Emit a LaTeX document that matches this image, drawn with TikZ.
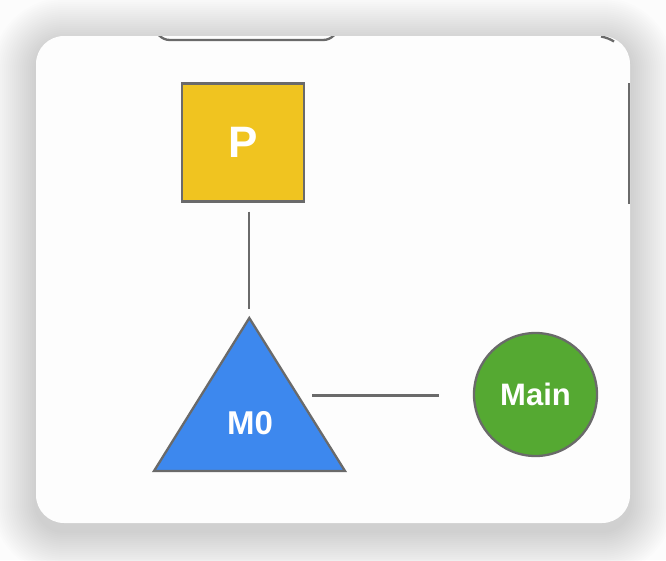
\documentclass[tikz,border=0pt]{standalone}
\usepackage{fontspec}
\setmainfont{Liberation Sans}
\definecolor{bgc}{HTML}{FCFCFC}
\definecolor{cardc}{HTML}{FDFDFD}
\definecolor{linec}{HTML}{6A6A6A}
\definecolor{pyellow}{HTML}{F0C420}
\definecolor{mblue}{HTML}{3D88EE}
\definecolor{mgreen}{HTML}{55A932}
\tikzset{
  conn/.style={draw=linec, line width=2.5pt},
  shapeline/.style={draw=linec, line width=2.3pt},
  lbl/.style={text=white, font=\bfseries},
}
\begin{document}
\begin{tikzpicture}[x=1pt,y=-1pt]
\useasboundingbox (0,0) rectangle (666,560);
\fill[bgc] (0,0) rectangle (666,560);
% soft shadow
\foreach \i in {2,4,...,44}{
  \fill[black,opacity=0.0085,rounded corners={28+\i}] (36-\i,36-\i+6) rectangle (630+\i,523+\i+8);
}
% card
\fill[cardc, rounded corners=28] (36,36) rectangle (630,523);
\begin{scope}
  \clip[rounded corners=28] (36,36) rectangle (630,523);
  % partial shapes cut by the card
  \draw[shapeline, rounded corners=15] (155,-10) rectangle (338,40);
  \draw[shapeline] (601,36.5) .. controls (606,37.5) and (610,39) .. (614,41.5);
  \draw[shapeline] (629,83) -- (629,204);
\end{scope}
% nodes
\node[shapeline, fill=pyellow, minimum width=122pt, minimum height=118pt, inner sep=0pt, lbl, font=\bfseries\fontsize{44}{44}\selectfont] (P) at (243.3,142.5) {P};
\coordinate (Mtop) at (249.3,318);
\coordinate (Mleft) at (154,471);
\coordinate (Mright) at (345,471);
\filldraw[shapeline, fill=mblue, line join=miter] (Mtop) -- (Mright) -- (Mleft) -- cycle;
\node[lbl, font=\bfseries\fontsize{33}{33}\selectfont] (M0) at (250,423) {M0};
\node[circle, shapeline, fill=mgreen, minimum size=123pt, inner sep=0pt, lbl, font=\bfseries\fontsize{31}{31}\selectfont] (Main) at (535.5,394.5) {Main};
% connectors
\coordinate (Ptail) at (249,211.5);
\coordinate (Mhead) at (249,309);
\draw[conn] (Ptail) -- (Mhead);
\coordinate (Lstart) at (312,395.3);
\coordinate (Lend) at (439,395.3);
\draw[conn] (Lstart) -- (Lend);
\end{tikzpicture}
\end{document}
